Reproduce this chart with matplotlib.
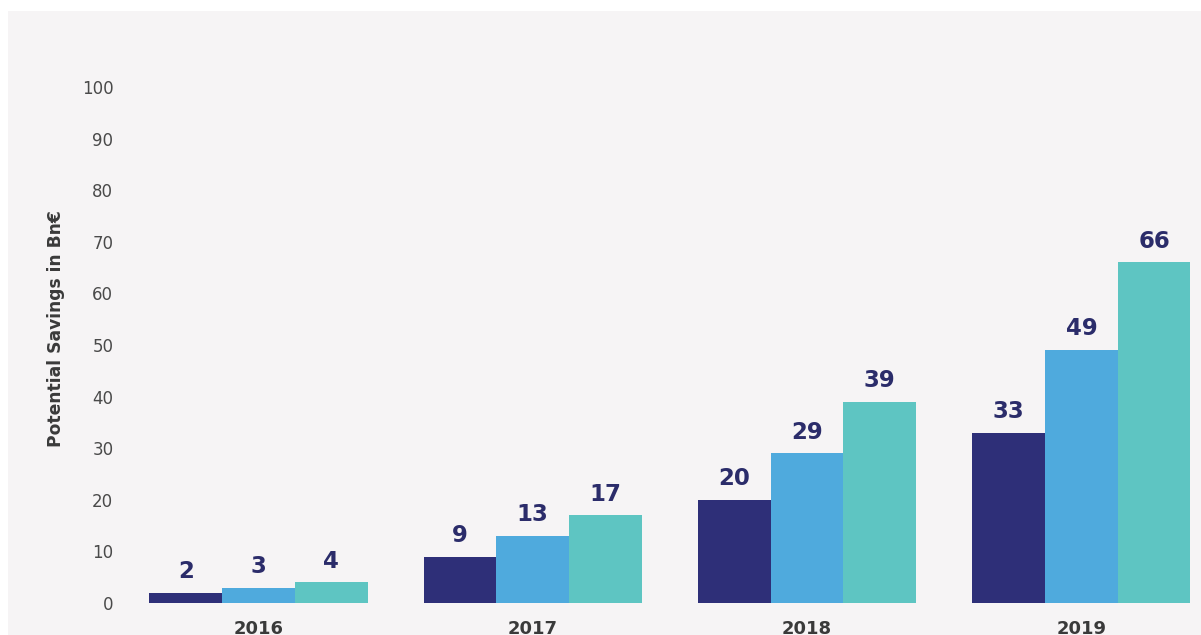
import matplotlib.pyplot as plt
from matplotlib.patches import Rectangle
import numpy as np

years = ["2016", "2017", "2018", "2019"]
series_a = [2, 9, 20, 33]
series_b = [3, 13, 29, 49]
series_c = [4, 17, 39, 66]
y_ticks = [0, 10, 20, 30, 40, 50, 60, 70, 80, 90, 100]

colors = ["#2e2f78", "#4faadd", "#5ec5c2"]
label_color = "#2b2c6a"
bg = "#f6f4f5"

W, H = 1201, 635
fig = plt.figure(figsize=(W / 100, H / 100), dpi=100, facecolor="white")
fig.patches.append(Rectangle((8 / W, 0), 1 - 8 / W, 1 - 11 / H,
                             transform=fig.transFigure, facecolor=bg,
                             edgecolor="none", zorder=-10))

ax_left, ax_bottom = 130 / W, (H - 603) / H
ax = fig.add_axes([ax_left, ax_bottom, 1 - ax_left, (603 - 61) / H])
ax.set_facecolor("none")
ax.set_zorder(5)

x = np.arange(len(years))
w = 0.265
for i, vals in enumerate([series_a, series_b, series_c]):
    pos = x + (i - 1) * w
    ax.bar(pos, vals, width=w, color=colors[i], zorder=2)
    for px, v in zip(pos, vals):
        ax.annotate(str(v), (px, v), xytext=(0, 7), textcoords="offset points",
                    ha="center", va="bottom", fontsize=16.5, fontweight="heavy",
                    color=label_color)

px_per_unit = (603 - 87) / 100.0
ax.set_ylim(0, (603 - 61) / px_per_unit)
center0, spacing = 258.5, 274.3
ax.set_xlim((130 - center0) / spacing, (W - center0) / spacing)

ax.set_yticks(y_ticks)
ax.set_yticklabels([str(t) for t in y_ticks], fontsize=12, color="#4a4a4a")
ax.set_xticks(x)
ax.set_xticklabels(years, fontsize=13, fontweight="bold", color="#3a3a3a")
ax.tick_params(axis="y", length=0, pad=12)
ax.tick_params(axis="x", length=0, pad=12)
for s in ax.spines.values():
    s.set_visible(False)

ax.set_ylabel("Potential Savings in Bn€", fontsize=12.3, fontweight="bold",
              color="#3a3a3a")
ax.yaxis.set_label_coords((65 - 130) / (W - 130), (603 - 329) / (603 - 61))

fig.savefig("out.png", dpi=100, facecolor=fig.get_facecolor())
